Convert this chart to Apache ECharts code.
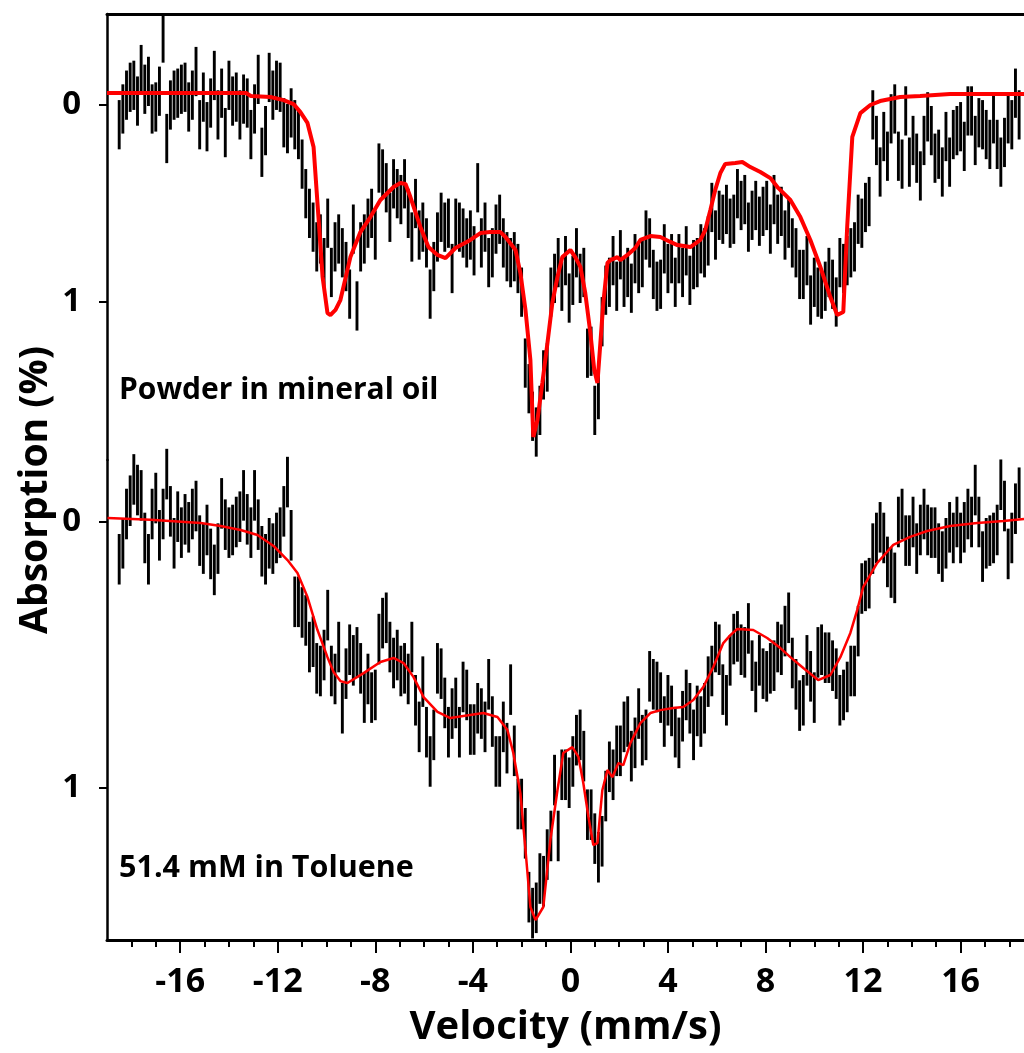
<!DOCTYPE html>
<html>
<head>
<meta charset="utf-8">
<script src="https://cdn.jsdelivr.net/npm/echarts@6/dist/echarts.min.js"></script>
<style>
  html, body { margin: 0; padding: 0; background: #fff; }
  #chart { width: 1024px; height: 1053px; }
</style>
</head>
<body>
<div id="chart"></div>
<script>
// channel velocities (mm/s), evenly spaced folded spectrum
const velStart = -18.5;
const velStep = 0.15;

// powder in mineral oil: absorption (%) per channel
const topAbs = [
  0.10, 0.02, -0.05, -0.09, -0.10, -0.02, -0.18, -0.08, -0.12, 0.02,
  0.01, -0.07, -0.34, 0.17, 0.00, -0.05, -0.06, -0.08, -0.09, 0.01,
  -0.05, -0.17, 0.10, -0.04, 0.11, -0.01, -0.15, 0.05, -0.06, 0.14,
  -0.10, -0.02, -0.04, 0.05, -0.03, -0.01, 0.15, 0.02, -0.13, 0.24,
  0.13, -0.14, -0.05, -0.10, -0.09, 0.09, 0.12, 0.04,
  0.10, 0.15, 0.30, 0.45, 0.55, 0.62, 0.72, 0.68, 0.80, 0.60,
  0.85, 0.72, 0.68, 0.75, 0.82, 0.96, 0.63, 1.02, 0.72, 0.68,
  0.60, 0.55, 0.66, 0.32, 0.35, 0.42, 0.57, 0.40, 0.45, 0.48,
  0.40, 0.55, 0.67, 0.50, 0.66, 0.62, 0.70, 0.96, 0.82, 0.67,
  0.57, 0.62, 0.60, 0.83, 0.60, 0.62, 0.65, 0.70, 0.66, 0.74,
  0.42, 0.70, 0.62, 0.80, 0.75, 0.63, 0.58, 0.70, 0.77, 0.80,
  0.77, 0.83, 0.95, 1.31, 1.44, 1.58, 1.66, 1.55, 1.37, 1.33,
  0.95, 0.88, 0.80,
  0.92, 0.79, 0.98, 0.89, 0.75, 0.88, 0.85, 1.26, 1.25, 1.55,
  1.47, 1.10, 0.94, 0.90, 0.79, 0.92, 0.76, 0.90, 0.85, 0.93,
  0.78, 0.83, 0.80, 0.66, 0.70, 0.86, 0.92, 0.91, 0.73, 0.83,
  0.78, 0.90, 0.78, 0.85, 0.74, 0.89, 0.81, 0.80, 0.73, 0.75,
  0.69, 0.52, 0.66, 0.56, 0.58, 0.53, 0.60, 0.58, 0.45, 0.51,
  0.48, 0.62, 0.56, 0.51, 0.59, 0.54, 0.51, 0.63, 0.48, 0.58,
  0.54, 0.66, 0.60,
  0.70, 0.75, 0.86, 0.86, 0.79, 0.99, 0.90, 0.95, 0.96, 0.92,
  0.85, 0.91, 1.00, 0.80, 0.83, 0.79, 0.75, 0.72, 0.58, 0.60,
  0.52, 0.49, 0.05, 0.18, 0.34, 0.16, 0.26, 0.07, 0.02, 0.26,
  0.30, 0.03, 0.29, 0.18, 0.27, 0.36, 0.18, 0.06, 0.13, 0.27,
  0.25, 0.34, 0.16, 0.29, 0.15, 0.13, 0.11, 0.21, 0.03, 0.03,
  0.18, 0.09, 0.10, 0.15, 0.20, 0.07, 0.20, 0.29, 0.19, 0.07,
  0.10, -0.06, 0.05
];
const topErr = 0.125;

// 51.4 mM in toluene: absorption (%) per channel
const bottomAbs = [
  0.14, 0.08, -0.03, -0.08, -0.16, -0.12, -0.10, 0.06, 0.14, -0.03,
  -0.09, 0.05, -0.03, -0.18, -0.04, 0.08, -0.02, 0.04, -0.01, 0.02,
  -0.03, -0.06, 0.07, 0.10, 0.03, 0.12, 0.18, 0.10, -0.07, 0.01,
  0.04, 0.03, 0.00, -0.02, -0.10, -0.01, 0.04, -0.10, 0.01, 0.11,
  0.14, 0.08, 0.10, 0.06, 0.04, -0.04, -0.15, 0.05, 0.30, 0.30,
  0.34, 0.37, 0.47, 0.45, 0.55, 0.56, 0.50, 0.35, 0.56, 0.59,
  0.47,
  0.70, 0.57, 0.48, 0.52, 0.49, 0.55, 0.66, 0.59, 0.66, 0.65,
  0.44, 0.38, 0.36, 0.47, 0.53, 0.50, 0.56, 0.55, 0.59, 0.47,
  0.67, 0.77, 0.60, 0.79, 0.90, 0.80, 0.55, 0.57, 0.68, 0.79,
  0.72, 0.68, 0.79, 0.62, 0.65, 0.78, 0.78, 0.70, 0.72, 0.77,
  0.61, 0.75, 0.90, 0.90, 0.77, 0.85, 0.63, 0.86, 1.06, 1.06,
  1.17, 1.41, 1.47, 1.45, 1.34, 1.35, 1.25, 1.18, 0.97, 1.18,
  0.95, 0.95, 0.98,
  0.90, 0.82, 0.80, 0.88, 1.10, 1.10, 1.19, 1.26, 1.20, 1.03,
  0.92, 0.95, 0.86, 0.86, 0.77, 0.75, 0.88, 0.83, 0.72, 0.82,
  0.80, 0.58, 0.61, 0.62, 0.66, 0.75, 0.67, 0.71, 0.79, 0.83,
  0.73, 0.65, 0.70, 0.80, 0.71, 0.75, 0.70, 0.60, 0.56, 0.47,
  0.48, 0.63, 0.67, 0.52, 0.44, 0.43, 0.48, 0.49, 0.40, 0.54,
  0.62, 0.52, 0.57, 0.58, 0.55, 0.54, 0.47, 0.48, 0.41, 0.36,
  0.53, 0.61, 0.69,
  0.67, 0.52, 0.58, 0.66, 0.49, 0.48, 0.51, 0.51, 0.54, 0.57,
  0.67, 0.65, 0.62, 0.56, 0.56, 0.41, 0.25, 0.24, 0.23, 0.10,
  0.06, 0.02, 0.06, 0.15, 0.19, 0.21, 0.00, -0.03, 0.07, 0.07,
  0.00, 0.10, 0.03, -0.03, 0.03, 0.04, 0.04, 0.10, 0.13, 0.08,
  0.02, 0.06, 0.00, 0.06, 0.02, -0.03, 0.00, -0.12, 0.00, 0.13,
  0.08, 0.07, 0.06, 0.03, -0.14, -0.06, 0.12, 0.06, -0.05, -0.11
];
const bottomErr = 0.095;

// fitted curves
const topFitVel = [-19.0, -13.3, -13.1, -12.3, -11.76, -11.35, -11.07, -10.78, -10.53, -10.33,
  -10.16, -9.96, -9.84, -9.63, -9.43, -9.02, -8.61, -8.20, -7.79, -7.25,
  -6.97, -6.76, -6.56, -6.15, -5.82, -5.45, -5.12, -4.71, -4.10, -3.69,
  -3.28, -2.87, -2.66, -2.25, -2.05, -1.84, -1.64, -1.52, -1.35, -1.15,
  -0.94, -0.74, -0.53, -0.33, 0, 0.20, 0.41, 0.61, 0.82, 0.98,
  1.11, 1.23, 1.35, 1.52, 1.64, 1.93, 2.05, 2.34, 2.66, 2.87,
  3.28, 3.69, 4.10, 4.39, 4.92, 5.33, 5.53, 5.74, 5.94, 6.15,
  6.35, 6.76, 7.05, 7.38, 7.79, 8.20, 8.52, 9.02, 9.43, 9.84,
  10.25, 10.66, 10.94, 11.19, 11.35, 11.56, 11.89, 12.30, 12.70, 13.52,
  14.34, 15.57, 18.6];
const topFitAbs = [-0.061, -0.061, -0.046, -0.041, -0.025, -0.005, 0.036, 0.091, 0.213, 0.569,
  0.873, 1.056, 1.066, 1.04, 0.99, 0.772, 0.645, 0.569, 0.482, 0.416,
  0.396, 0.401, 0.467, 0.619, 0.721, 0.761, 0.777, 0.726, 0.685, 0.650,
  0.645, 0.645, 0.670, 0.736, 0.853, 1.041, 1.294, 1.685, 1.599, 1.411,
  1.208, 1.005, 0.873, 0.772, 0.736, 0.772, 0.822, 0.954, 1.157, 1.345,
  1.411, 1.208, 1.005, 0.802, 0.787, 0.772, 0.787, 0.761, 0.726, 0.685,
  0.665, 0.670, 0.695, 0.711, 0.721, 0.685, 0.635, 0.533, 0.431, 0.345,
  0.299, 0.294, 0.289, 0.315, 0.340, 0.371, 0.421, 0.482, 0.569, 0.685,
  0.822, 0.975, 1.066, 1.051, 0.619, 0.162, 0.041, 0.0, -0.020, -0.041,
  -0.046, -0.056, -0.056];

const bottomFitVel = [-18.98, -17.21, -15.16, -14.34, -13.52, -12.83, -12.17, -11.60, -11.19, -10.78,
  -10.37, -9.96, -9.71, -9.43, -9.14, -8.48, -7.79, -7.25, -6.84, -6.43,
  -6.02, -5.45, -4.92, -4.39, -3.57, -2.99, -2.58, -2.34, -2.05, -1.84,
  -1.64, -1.43, -1.11, -0.82, -0.53, -0.29, 0.08, 0.33, 0.53, 0.74,
  0.94, 1.11, 1.31, 1.52, 1.72, 1.97, 2.17, 2.46, 2.87, 3.28,
  3.69, 4.22, 4.63, 5.04, 5.45, 5.86, 6.27, 6.56, 6.84, 7.50,
  8.07, 8.61, 9.02, 9.55, 10.16, 10.66, 11.07, 11.48, 11.76, 12.01,
  12.58, 13.24, 13.93, 14.63, 15.57, 16.68, 17.75, 18.6];
const bottomFitAbs = [-0.015, -0.008, 0.004, 0.015, 0.030, 0.049, 0.090, 0.143, 0.192, 0.282,
  0.406, 0.508, 0.564, 0.598, 0.605, 0.568, 0.526, 0.511, 0.530, 0.583,
  0.658, 0.714, 0.737, 0.729, 0.718, 0.733, 0.782, 0.868, 1.019, 1.233,
  1.447, 1.496, 1.447, 1.195, 1.008, 0.868, 0.846, 0.883, 0.981, 1.108,
  1.214, 1.207, 1.008, 0.932, 0.959, 0.906, 0.914, 0.831, 0.756, 0.718,
  0.707, 0.699, 0.695, 0.669, 0.620, 0.545, 0.455, 0.425, 0.402, 0.406,
  0.436, 0.474, 0.508, 0.549, 0.594, 0.575, 0.508, 0.417, 0.331, 0.244,
  0.154, 0.086, 0.056, 0.034, 0.015, 0.004, -0.004, -0.011];

const majorTicks = [-16, -12, -8, -4, 0, 4, 8, 12, 16];
const minorTicks = [-18, -17, -16, -15, -14, -13, -12, -11, -10, -9, -8, -7, -6, -5, -4, -3, -2, -1,
  0, 1, 2, 3, 4, 5, 6, 7, 8, 9, 10, 11, 12, 13, 14, 15, 16, 17, 18];
const yTicks = [0, 1];

const FONT = 'Open Sans';

const velocity = topAbs.map((_, i) => +(velStart + i * velStep).toFixed(2));
const topData = velocity.map((v, i) => [v, topAbs[i]]);
const bottomData = velocity.map((v, i) => [v, bottomAbs[i]]);

function errBars(err) {
  return function (params, api) {
    const x = api.value(0), y = api.value(1);
    const p1 = api.coord([x, y - err]);
    const p2 = api.coord([x, y + err]);
    return {
      type: 'line',
      shape: { x1: p1[0], y1: p1[1], x2: p2[0], y2: p2[1] },
      style: { stroke: '#000', lineWidth: 2.9 }
    };
  };
}

const chart = echarts.init(document.getElementById('chart'));

const yAxisBase = {
  type: 'value',
  inverse: true,
  splitLine: { show: false },
  axisLine: { show: true, onZero: false, lineStyle: { color: '#000', width: 2.5 } },
  axisTick: { show: true, customValues: yTicks, length: 8, lineStyle: { color: '#000', width: 2 } },
  axisLabel: {
    customValues: yTicks, margin: 26,
    color: '#000', fontSize: 33, fontWeight: 'bold', fontFamily: FONT
  }
};

option = {
  animation: false,
  backgroundColor: '#fff',
  grid: [
    { left: 107, right: 0, top: 14, height: 446 },
    { left: 107, right: 0, top: 460, height: 480 }
  ],
  xAxis: [
    {
      type: 'value', gridIndex: 0, position: 'top', min: -19, max: 18.6,
      splitLine: { show: false },
      axisLine: { show: true, onZero: false, lineStyle: { color: '#000', width: 3 } },
      axisTick: { show: false }, axisLabel: { show: false }
    },
    {
      type: 'value', gridIndex: 1, position: 'bottom', min: -19, max: 18.6,
      splitLine: { show: false },
      axisLine: { show: true, onZero: false, lineStyle: { color: '#000', width: 3 } },
      axisTick: { show: true, customValues: majorTicks, length: 13, lineStyle: { color: '#000', width: 2 } },
      axisLabel: {
        customValues: majorTicks, margin: 25,
        color: '#000', fontSize: 34, fontWeight: 'bold', fontFamily: FONT
      },
      name: 'Velocity (mm/s)',
      nameLocation: 'middle',
      nameGap: 68,
      nameTextStyle: { color: '#000', fontSize: 40, fontWeight: 'bold', fontFamily: FONT }
    },
    {
      type: 'value', gridIndex: 1, position: 'bottom', min: -19, max: 18.6,
      splitLine: { show: false },
      axisLine: { show: false, onZero: false },
      axisTick: { show: true, customValues: minorTicks, length: 7, lineStyle: { color: '#000', width: 2 } },
      axisLabel: { show: false }
    }
  ],
  yAxis: [
    Object.assign({}, yAxisBase, { gridIndex: 0, min: -0.462, max: 1.802 }),
    Object.assign({}, yAxisBase, { gridIndex: 1, min: -0.233, max: 1.571 })
  ],
  graphic: [
    {
      type: 'text', x: 36, y: 490, rotation: Math.PI / 2,
      style: {
        text: 'Absorption (%)', fill: '#000',
        font: 'bold 39px "' + FONT + '"', align: 'center', verticalAlign: 'middle'
      }
    },
    {
      type: 'text', x: 119, y: 390,
      style: {
        text: 'Powder in mineral oil', fill: '#000',
        font: 'bold 30px "' + FONT + '"', align: 'left', verticalAlign: 'middle'
      }
    },
    {
      type: 'text', x: 119, y: 868,
      style: {
        text: '51.4 mM in Toluene', fill: '#000',
        font: 'bold 30.5px "' + FONT + '"', align: 'left', verticalAlign: 'middle'
      }
    }
  ],
  series: [
    {
      type: 'custom', xAxisIndex: 0, yAxisIndex: 0,
      renderItem: errBars(topErr), encode: { x: 0, y: 1 },
      data: topData, clip: false, z: 2
    },
    {
      type: 'line', xAxisIndex: 0, yAxisIndex: 0,
      data: topFitVel.map((v, i) => [v, topFitAbs[i]]),
      showSymbol: false, smooth: false,
      lineStyle: { color: '#ff0000', width: 4 }, z: 3
    },
    {
      type: 'custom', xAxisIndex: 1, yAxisIndex: 1,
      renderItem: errBars(bottomErr), encode: { x: 0, y: 1 },
      data: bottomData, clip: false, z: 2
    },
    {
      type: 'line', xAxisIndex: 1, yAxisIndex: 1,
      data: bottomFitVel.map((v, i) => [v, bottomFitAbs[i]]),
      showSymbol: false, smooth: false,
      lineStyle: { color: '#ff0000', width: 2.5 }, z: 3
    }
  ]
};

chart.setOption(option);
</script>
</body>
</html>
